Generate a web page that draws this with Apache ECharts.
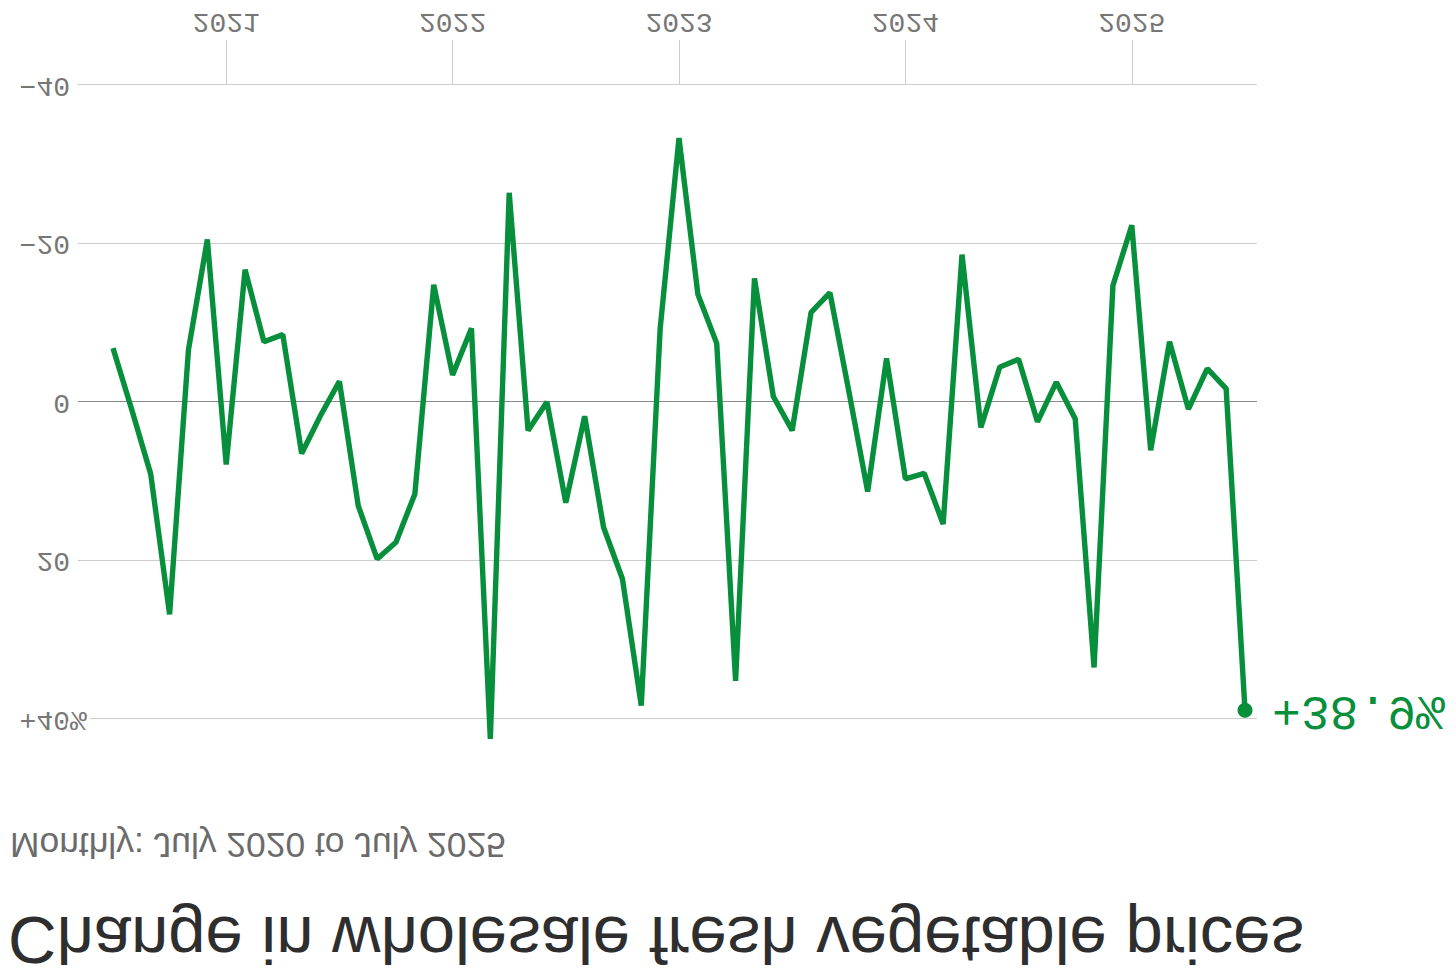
<!DOCTYPE html>
<html>
<head>
<meta charset="utf-8">
<script src="https://cdn.jsdelivr.net/npm/echarts@6/dist/echarts.min.js"></script>
<style>
html,body{margin:0;padding:0;background:#fff;overflow:hidden}
#wrap{width:1456px;height:970px;transform:scaleY(-1);transform-origin:50% 50%}
#chart{width:1456px;height:970px}
</style>
</head>
<body>
<div id="wrap"><div id="chart"></div></div>
<script>
// ---- data ----
const titleText = 'Change in wholesale fresh vegetable prices';
const subtitleText = 'Monthly: July 2020 to July 2025';

const months = [
  '2020-07','2020-08','2020-09','2020-10','2020-11','2020-12',
  '2021-01','2021-02','2021-03','2021-04','2021-05','2021-06',
  '2021-07','2021-08','2021-09','2021-10','2021-11','2021-12',
  '2022-01','2022-02','2022-03','2022-04','2022-05','2022-06',
  '2022-07','2022-08','2022-09','2022-10','2022-11','2022-12',
  '2023-01','2023-02','2023-03','2023-04','2023-05','2023-06',
  '2023-07','2023-08','2023-09','2023-10','2023-11','2023-12',
  '2024-01','2024-02','2024-03','2024-04','2024-05','2024-06',
  '2024-07','2024-08','2024-09','2024-10','2024-11','2024-12',
  '2025-01','2025-02','2025-03','2025-04','2025-05','2025-06',
  '2025-07'
];

// % change, year over year
const changePct = [
  -6.8, 1.0, 9.1, 26.8, -6.6, -20.5,
  7.9, -16.7, -7.6, -8.5, 6.5, 1.7,
  -2.6, 13.1, 19.8, 17.7, 11.6, -14.8,
  -3.4, -9.3, 42.5, -26.4, 3.6, 0.0,
  12.7, 1.8, 15.8, 22.3, 38.3, -9.2,
  -33.3, -13.6, -7.4, 35.2, -15.6, -0.7,
  3.6, -11.3, -13.8, -1.4, 11.3, -5.5,
  9.7, 9.0, 15.4, -18.6, 3.2, -4.4,
  -5.4, 2.5, -2.5, 2.1, 33.5, -14.7,
  -22.3, 6.1, -7.6, 0.9, -4.2, -1.7,
  38.9
];

const yearTickLabels = ['2021', '2022', '2023', '2024', '2025'];
const yTickValues = [-40, -20, 0, 20, 40];

// ---- build ----
const GREEN = '#078f3c';
const MONO = "'Liberation Mono', 'DejaVu Sans Mono', monospace";
const SANS = "'Liberation Sans', Arial, sans-serif";

const yearIdx = yearTickLabels.map(y => months.indexOf(y + '-01'));
const lastIdx = changePct.length - 1;
const seriesData = changePct.map((v, i) => {
  if (i === lastIdx) {
    return { value: [i, v], symbol: 'circle', symbolSize: 15, itemStyle: { color: GREEN } };
  }
  return [i, v];
});

const yLabel = v => {
  const top = yTickValues[yTickValues.length - 1];
  if (v === top) return '{n|+' + v + '}{p|%}';
  return v < 0 ? '\u2212' + Math.abs(v) : String(v);
};

const chart = echarts.init(document.getElementById('chart'), null, { renderer: 'svg' });
chart.setOption({
  animation: false,
  backgroundColor: '#fff',
  title: [
    { text: titleText, left: 8, top: 2, padding: 0,
      textStyle: { fontFamily: SANS, fontSize: 67, lineHeight: 56, fontWeight: 'normal', color: '#2e2e2e' } },
    { text: subtitleText, left: 10, top: 107, padding: 0,
      textStyle: { fontFamily: SANS, fontSize: 35.4, lineHeight: 36, fontWeight: 'normal', color: '#6b6b6b' } }
  ],
  grid: { left: 78, right: 199, top: 251, bottom: 85, containLabel: false },
  xAxis: {
    type: 'value',
    min: -1.855,
    max: lastIdx + 0.636,
    splitLine: { show: false },
    axisLine: { show: false, onZero: false },
    axisTick: { show: true, customValues: yearIdx, length: 45, lineStyle: { color: '#cccccc', width: 1 } },
    axisLabel: {
      customValues: yearIdx,
      formatter: v => months[Math.round(v)].slice(0, 4),
      margin: 50, fontFamily: MONO, fontSize: 28, color: '#777'
    }
  },
  yAxis: {
    type: 'value',
    min: yTickValues[0], max: yTickValues[yTickValues.length - 1], interval: 20,
    axisLine: { show: false },
    axisTick: { show: false },
    splitLine: { show: true, lineStyle: { color: ['#cccccc', '#cccccc', '#8a8a8a', '#cccccc', '#cccccc'], width: 1.2 } },
    axisLabel: {
      margin: 8, fontFamily: MONO, fontSize: 28, color: '#777',
      formatter: yLabel,
      rich: {
        n: { align: 'left', fontFamily: MONO, fontSize: 28, color: '#777' },
        p: { align: 'left', width: 0, fontFamily: MONO, fontSize: 28, color: '#777', textBorderColor: '#fff', textBorderWidth: 6 }
      }
    }
  },
  series: [{
    type: 'line',
    data: seriesData,
    symbol: 'none',
    clip: false,
    lineStyle: { color: GREEN, width: 5.4 },
    itemStyle: { color: GREEN },
    endLabel: {
      show: true, distance: 27,
      formatter: p => '+' + p.value[1].toFixed(1) + '%',
      fontFamily: MONO, fontSize: 48, color: GREEN
    }
  }]
});
</script>
</body>
</html>
